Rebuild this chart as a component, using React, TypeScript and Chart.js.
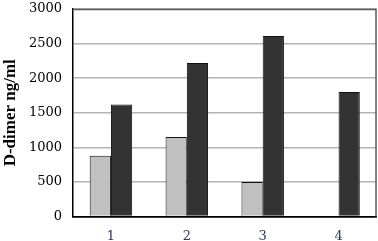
import React, { useEffect, useRef } from "react";
import { Chart, registerables } from "chart.js";

Chart.register(...registerables);

const categories = ["1", "2", "3", "4"];
const seriesLight = [880, 1150, 500, null];
const seriesDark = [1620, 2220, 2610, 1800];
const yTicks = [0, 500, 1000, 1500, 2000, 2500, 3000];

export default function App() {
  const ref = useRef<HTMLCanvasElement>(null);
  useEffect(() => {
    document.body.style.margin = "0";
    const borderPlugin = {
      id: "frame",
      afterDraw(chart: any) {
        const { ctx, chartArea: a } = chart;
        ctx.save();
        ctx.strokeStyle = "#5a5a5a";
        ctx.lineWidth = 1.5;
        ctx.beginPath();
        ctx.moveTo(a.left, a.top + 0.5);
        ctx.lineTo(a.right - 0.5, a.top + 0.5);
        ctx.lineTo(a.right - 0.5, a.bottom);
        ctx.stroke();
        ctx.restore();
      },
    };
    const chart = new Chart(ref.current!, {
      type: "bar",
      data: {
        labels: categories,
        datasets: [
          {
            data: seriesLight,
            backgroundColor: "#c0c0c0",
            borderColor: "#111",
            borderWidth: 1,
            categoryPercentage: 0.56,
            barPercentage: 1,
          },
          {
            data: seriesDark,
            backgroundColor: "#333333",
            borderColor: "#111",
            borderWidth: 1,
            categoryPercentage: 0.56,
            barPercentage: 1,
          },
        ],
      },
      options: {
        animation: false,
        responsive: false,
        layout: { padding: { top: 0, right: 1.5, left: 0, bottom: 0 } },
        plugins: { legend: { display: false }, tooltip: { enabled: false } },
        scales: {
          x: {
            grid: { display: false },
            border: { color: "#000", width: 1.5 },
            ticks: {
              color: "#2c3a55",
              padding: 4,
              font: { family: "DejaVu Serif", size: 13 },
            },
            afterFit(scale: any) {
              scale.height = 24.5;
            },
          },
          y: {
            min: 0,
            max: 3000,
            afterBuildTicks(scale: any) {
              scale.ticks = yTicks.map((v) => ({ value: v }));
            },
            grid: {
              color: (c: any) => (c.tick && c.tick.value === 0 ? "#000" : "#b4b4b4"),
              lineWidth: 1.5,
              drawTicks: false,
            },
            border: { color: "#000", width: 1.5 },
            ticks: {
              color: "#000",
              padding: 11,
              font: { family: "DejaVu Serif", size: 13 },
              callback: (v: any) => String(v),
            },
            title: {
              display: true,
              text: "D-dimer ng/ml",
              color: "#000",
              padding: { top: 0, bottom: 2 },
              font: { family: "Liberation Serif", size: 17, weight: "bold" },
            },
            afterFit(scale: any) {
              scale.width = 73;
              scale.paddingTop = 9;
              scale.paddingBottom = 0;
            },
          },
        },
      },
      plugins: [borderPlugin],
    });
    return () => chart.destroy();
  }, []);
  return <canvas ref={ref} width={378} height={241} style={{ display: "block" }} />;
}
